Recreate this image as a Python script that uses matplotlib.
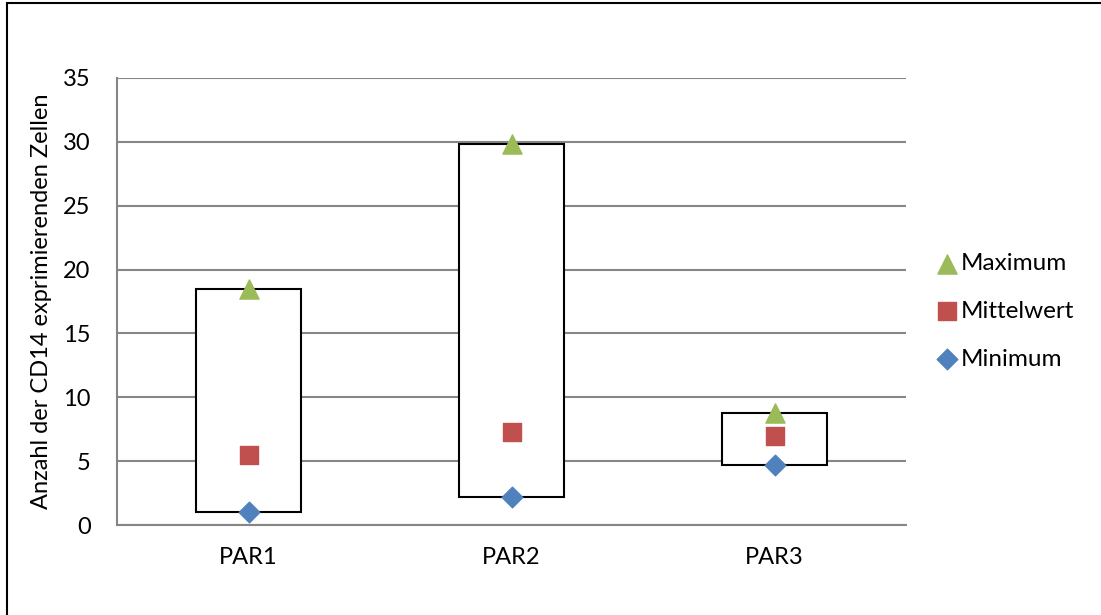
import matplotlib.pyplot as plt
from matplotlib.patches import Rectangle

plt.rcParams['font.family'] = ['Lato', 'DejaVu Sans']

# values per group
groups = ['PAR1', 'PAR2', 'PAR3']
maximum = [18.5, 29.8, 8.8]
mittelwert = [5.5, 7.3, 7.0]
minimum = [1.0, 2.2, 4.7]

fig = plt.figure(figsize=(11.01, 6.15), dpi=100)
ax = fig.add_axes([0.1063, 0.1463, 0.7166, 0.7269])

# outer frame around the whole chart area
fig.patches.append(Rectangle((7 / 1101, -0.1), 1.2, 1 - 3 / 615 + 0.1,
                             transform=fig.transFigure, fill=False,
                             edgecolor='black', linewidth=1.5))

x = [i + 0.5 for i in range(len(groups))]
box_w = 0.4

# high-low boxes
for xi, lo, hi in zip(x, minimum, maximum):
    ax.add_patch(Rectangle((xi - box_w / 2, lo), box_w, hi - lo,
                           facecolor='white', edgecolor='black',
                           linewidth=1.5, zorder=2))

ax.scatter(x, maximum, marker='^', s=190, color='#9BBB59', zorder=3, label='Maximum')
ax.scatter(x, mittelwert, marker='s', s=170, color='#C0504D', zorder=3, label='Mittelwert')
ax.scatter(x, minimum, marker='D', s=110, color='#4F81BD', zorder=3, label='Minimum')

ax.set_xlim(0, 3)
ax.set_ylim(0, 35)
ax.set_yticks(range(0, 36, 5))
ax.set_xticks(x)
ax.set_xticklabels(groups)
ax.yaxis.grid(True, color='#868686', linewidth=1.5)
ax.set_axisbelow(True)

for side in ['top', 'right']:
    ax.spines[side].set_visible(False)
for side in ['left', 'bottom']:
    ax.spines[side].set_color('#868686')
    ax.spines[side].set_linewidth(1.5)

ax.tick_params(axis='both', length=0, labelsize=17, colors='black')
ax.tick_params(axis='y', pad=19)
ax.tick_params(axis='x', pad=16)

ax.set_ylabel('Anzahl der CD14 exprimierenden Zellen', fontsize=17, labelpad=8)

ax.legend(loc='center left', bbox_to_anchor=(1.021, 0.478), frameon=False,
          fontsize=17.5, handletextpad=0.05, labelspacing=1.1, borderpad=0,
          handlelength=1.0)

plt.savefig('out.png', dpi=100)
